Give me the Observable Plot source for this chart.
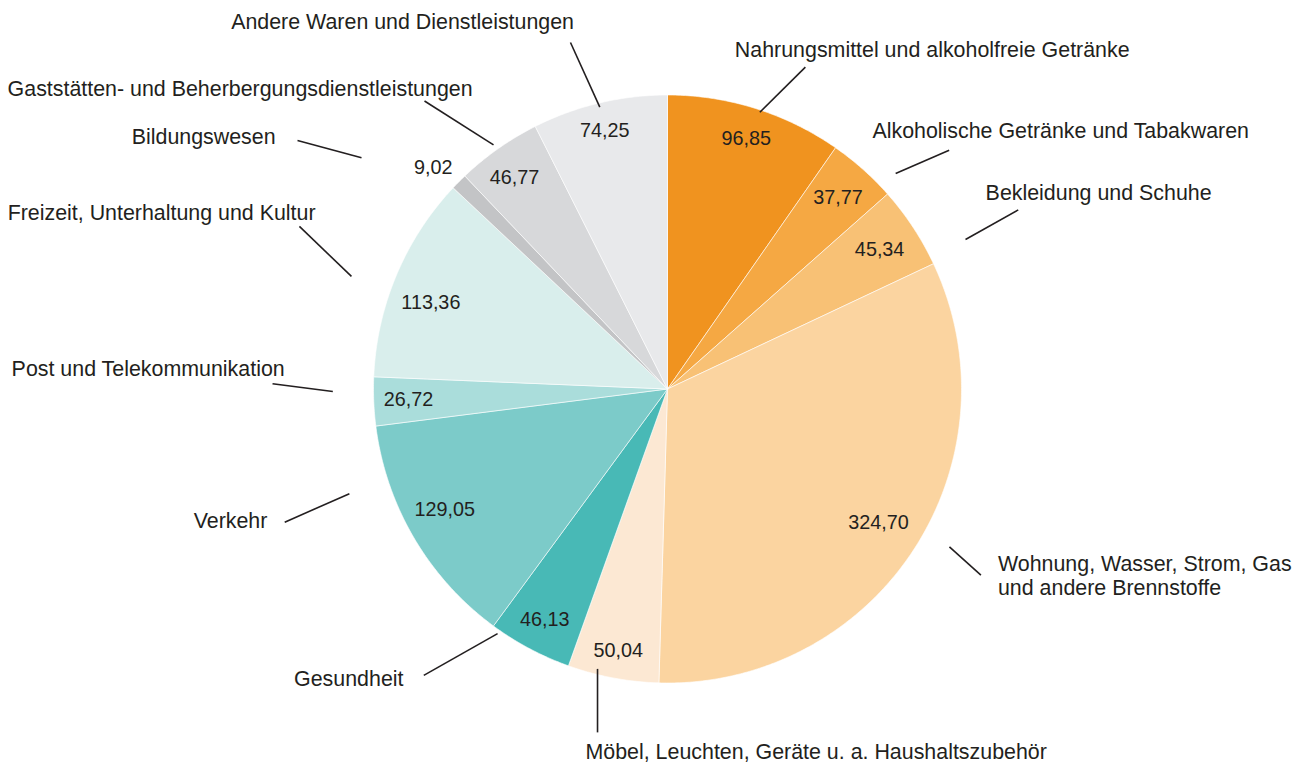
<!DOCTYPE html>
<html><head><meta charset="utf-8">
<script src="https://cdn.jsdelivr.net/npm/d3@7"></script>
<script src="https://cdn.jsdelivr.net/npm/@observablehq/plot@0.6"></script>
<style>body{margin:0;background:#fff}#chart svg{display:block}</style>
</head><body><div id="chart"></div>
<script>
// ---- data ----
const categories = [
  "Nahrungsmittel und alkoholfreie Getränke",
  "Alkoholische Getränke und Tabakwaren",
  "Bekleidung und Schuhe",
  "Wohnung, Wasser, Strom, Gas\nund andere Brennstoffe",
  "Möbel, Leuchten, Geräte u. a. Haushaltszubehör",
  "Gesundheit",
  "Verkehr",
  "Post und Telekommunikation",
  "Freizeit, Unterhaltung und Kultur",
  "Bildungswesen",
  "Gaststätten- und Beherbergungsdienstleistungen",
  "Andere Waren und Dienstleistungen"
];
const values = [96.85, 37.77, 45.34, 324.70, 50.04, 46.13, 129.05, 26.72, 113.36, 9.02, 46.77, 74.25];
const colors = ["#F0931F", "#F5A843", "#F8C175", "#FBD4A0", "#FCE8D3", "#48B9B6",
                "#7CCBC9", "#AADDDB", "#D9EEEC", "#C3C4C6", "#D7D8DA", "#E8E9EB"];

// ---- layout (in pie radii, relative to the pie centre) ----
const W = 1306, H = 765, CX = 667, CY = 388.5, R = 294;
const valueRadius = [0.894, 0.873, 0.864, 0.849, 0.905, 0.89, 0.861, 0.882, 0.857, 1.097, 0.888, 0.903];
const valueAngleShift = [0, 0, 0, -0.9, 0, 0, 2.1, 0, -2.7, -1.4, -0.7, -0.3]; // degrees
// leader start, leader end, text anchor point, anchor side
const labelLayout = [
  {l: [0.314, 0.9415, 0.469, 1.0946], t: [0.229, 1.155], a: "start"},
  {l: [0.776, 0.733, 0.958, 0.812], t: [0.697, 0.879], a: "start"},
  {l: [1.0136, 0.5085, 1.193, 0.6092], t: [1.082, 0.670], a: "start"},
  {l: [0.959, -0.537, 1.066, -0.633], t: [1.124, -0.633], a: "start"},
  {l: [-0.238, -0.952, -0.238, -1.168], t: [-0.279, -1.230], a: "start"},
  {l: [-0.578, -0.832, -0.829, -0.974], t: [-0.898, -0.985], a: "end"},
  {l: [-1.082, -0.356, -1.302, -0.453], t: [-1.361, -0.445], a: "end"},
  {l: [-1.1384, -0.0085, -1.3435, 0.0177], t: [-1.302, 0.070], a: "end"},
  {l: [-1.075, 0.383, -1.252, 0.553], t: [-1.197, 0.602], a: "end"},
  {l: [-1.0408, 0.7864, -1.2585, 0.8452], t: [-1.333, 0.859], a: "end"},
  {l: [-0.5918, 0.8306, -0.8265, 0.9796], t: [-0.663, 1.023], a: "end"},
  {l: [-0.2303, 0.9585, -0.330, 1.1786], t: [-0.318, 1.250], a: "end"}
];

const de = d3.formatLocale({decimal: ",", thousands: ".", grouping: [3], currency: ["", " €"]});
const fmt = de.format(".2f");

const arcs = d3.pie().sort(null).value(d => d)(values);

// slice outlines
const slicePts = [];
arcs.forEach((a, i) => {
  const n = Math.max(2, Math.ceil((a.endAngle - a.startAngle) / (Math.PI / 360)));
  slicePts.push({cat: categories[i], x: 0, y: 0});
  for (let k = 0; k <= n; k++) {
    const t = a.startAngle + (a.endAngle - a.startAngle) * k / n;
    slicePts.push({cat: categories[i], x: Math.sin(t), y: Math.cos(t)});
  }
  slicePts.push({cat: categories[i], x: 0, y: 0});
});

const valueData = arcs.map((a, i) => {
  const m = (a.startAngle + a.endAngle) / 2 + valueAngleShift[i] * Math.PI / 180;
  return {x: valueRadius[i] * Math.sin(m), y: valueRadius[i] * Math.cos(m), text: fmt(values[i])};
});
const leaderData = labelLayout.map(d => ({x1: d.l[0], y1: d.l[1], x2: d.l[2], y2: d.l[3]}));
const labelData = labelLayout.map((d, i) => ({x: d.t[0], y: d.t[1], text: categories[i], a: d.a}));

const ink = "#231F20";
const chart = Plot.plot({
  width: W, height: H, margin: 0,
  style: {fontFamily: "'Liberation Sans', Arial, sans-serif", background: "#fff"},
  x: {domain: [-CX / R, (W - CX) / R], axis: null},
  y: {domain: [-(H - CY) / R, CY / R], axis: null},
  color: {domain: categories, range: colors},
  marks: [
    Plot.line(slicePts, {x: "x", y: "y", z: "cat", fill: "cat", stroke: "#fff", strokeWidth: 0.6, strokeLinejoin: "round"}),
    Plot.text(valueData, {x: "x", y: "y", text: "text", fontSize: 19.8, fill: ink}),
    Plot.link(leaderData, {x1: "x1", y1: "y1", x2: "x2", y2: "y2", stroke: ink, strokeWidth: 1.6}),
    Plot.text(labelData.filter(d => d.a === "start"), {x: "x", y: "y", text: "text", textAnchor: "start", lineHeight: 1.15, fontSize: 21.4, fill: ink}),
    Plot.text(labelData.filter(d => d.a === "end"), {x: "x", y: "y", text: "text", textAnchor: "end", lineHeight: 1.15, fontSize: 21.4, fill: ink})
  ]
});
document.getElementById("chart").appendChild(chart);
</script>
</body></html>
